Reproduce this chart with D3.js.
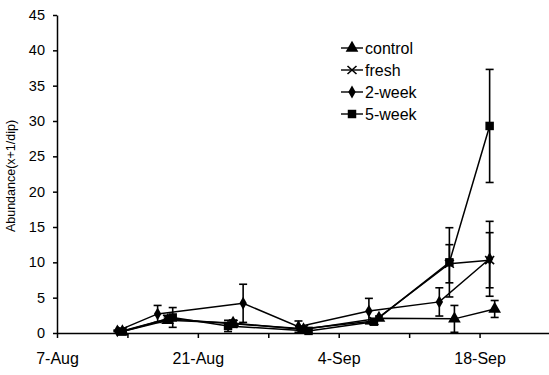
<!DOCTYPE html>
<meta charset="utf-8">
<style>
body { margin: 0; background: #fff; }
svg { font-family: "Liberation Sans", Arial, sans-serif; }
.axis path, .axis line { stroke: #000; stroke-width: 1.5px; }
.axis text { fill: #000; }
.series path.line { fill: none; stroke: #000; stroke-width: 1.5px; }
.err { stroke: #000; stroke-width: 1.6px; }
</style>
<svg width="549" height="375"></svg>
<script src="https://d3js.org/d3.v7.min.js"></script>
<script>

// sampling dates (read per treatment, they sit slightly apart on the chart)
var controlDates = ["2000-08-13T12:00", "2000-08-18T00:00", "2000-08-24T12:00", "2000-08-31T12:00", "2000-09-08T00:00", "2000-09-15T12:00", "2000-09-19T12:00"];
var freshDates   = ["2000-08-13T12:00", "2000-08-18T00:00", "2000-08-24T12:00", "2000-08-31T12:00", "2000-09-07T12:00", "2000-09-15T00:00", "2000-09-19T00:00"];
var week2Dates   = ["2000-08-13T00:00", "2000-08-17T00:00", "2000-08-25T12:00", "2000-08-31T00:00", "2000-09-07T00:00", "2000-09-14T00:00", "2000-09-19T00:00"];
var week5Dates   = ["2000-08-13T12:00", "2000-08-18T12:00", "2000-08-24T00:00", "2000-09-01T00:00", "2000-09-07T12:00", "2000-09-15T00:00", "2000-09-19T00:00"];

var controlMean = [0.2, 1.8, 1.4, 0.5, 2.1, 2.0, 3.4];
var controlErr  = [0.1, 0.3, 0.4, 0.2, 0.3, 1.9, 1.2];
var freshMean   = [0.3, 2.0, 1.3, 0.6, 1.7, 9.8, 10.3];
var freshErr    = [0.1, 0.5, 0.5, 0.3, 0.3, 2.7, 3.9];
var week2Mean   = [0.3, 2.7, 4.2, 0.9, 3.1, 4.4, 10.5];
var week2Err    = [0.1, 1.2, 2.7, 0.8, 1.8, 2.0, 5.3];
var week5Mean   = [0.2, 2.2, 1.0, 0.3, 1.6, 10.0, 29.3];
var week5Err    = [0.1, 1.4, 0.8, 0.3, 0.4, 4.9, 8.0];

var seriesNames = ["control", "fresh", "2-week", "5-week"];
var yTicks = [0, 5, 10, 15, 20, 25, 30, 35, 40, 45];
var xTickDates = ["2000-08-07", "2000-08-14", "2000-08-21", "2000-08-28", "2000-09-04", "2000-09-11", "2000-09-18", "2000-09-25"];
var xTickLabels = ["7-Aug", "", "21-Aug", "", "4-Sep", "", "18-Sep", ""];
var yTitle = "Abundance(x+1/dip)";

var svg = d3.select("svg");

var parse = d3.isoParse;

var x = d3.scaleTime()
    .domain([parse("2000-08-07"), parse("2000-09-25")])
    .range([57, 550]);

var y = d3.scaleLinear()
    .domain([0, 45])
    .range([333, 15]);

function zip(dates, mean, err) {
  return dates.map(function(d, i) { return {date: parse(d), value: mean[i], err: err[i]}; });
}

var series = [
  {name: seriesNames[0], symbol: d3.symbolTriangle, size: 70, values: zip(controlDates, controlMean, controlErr)},
  {name: seriesNames[1], symbol: d3.symbolCross,    size: 0,  values: zip(freshDates, freshMean, freshErr)},
  {name: seriesNames[2], symbol: d3.symbolDiamond,  size: 48, values: zip(week2Dates, week2Mean, week2Err)},
  {name: seriesNames[3], symbol: d3.symbolSquare,   size: 72, values: zip(week5Dates, week5Mean, week5Err)}
];

// x marker drawn as two strokes
function drawMarker(sel, s) {
  if (s.name === "fresh") {
    sel.append("path")
        .attr("d", "M-4.5,-4L4.5,4M-4.5,4L4.5,-4")
        .attr("stroke", "#000")
        .attr("stroke-width", 1.6)
        .attr("fill", "none");
  } else {
    sel.append("path")
        .attr("d", d3.symbol().type(s.symbol).size(s.size)())
        .attr("fill", "#000");
  }
}

// axes
var xAxis = svg.append("g")
    .attr("class", "axis")
    .attr("transform", "translate(0," + y(0) + ")")
    .call(d3.axisBottom(x)
      .tickValues(xTickDates.map(parse))
      .tickSize(5)
      .tickSizeOuter(0)
      .tickPadding(15)
      .tickFormat(function(d, i) { return xTickLabels[i]; }));
xAxis.selectAll("text").attr("font-size", 16);

var yAxis = svg.append("g")
    .attr("class", "axis")
    .attr("transform", "translate(" + x.range()[0] + ",0)")
    .call(d3.axisLeft(y)
      .tickValues(yTicks)
      .tickSize(4)
      .tickSizeOuter(0)
      .tickPadding(8));
yAxis.selectAll("text").attr("font-size", 14.5);
xAxis.attr("font-family", null);
yAxis.attr("font-family", null);

svg.append("text")
    .attr("transform", "translate(15," + 176 + ") rotate(-90)")
    .attr("text-anchor", "middle")
    .attr("font-size", 12.5)
    .text(yTitle);

var line = d3.line()
    .x(function(d) { return x(d.date); })
    .y(function(d) { return y(d.value); });

var g = svg.selectAll(".series")
  .data(series)
  .enter().append("g")
    .attr("class", "series");

g.append("path")
    .attr("class", "line")
    .attr("d", function(d) { return line(d.values); });

g.each(function(s) {
  var eg = d3.select(this).selectAll(".errbar")
    .data(s.values)
    .enter().append("g")
      .attr("class", "errbar")
      .attr("transform", function(d) { return "translate(" + x(d.date) + ",0)"; });
  eg.append("line").attr("class", "err")
      .attr("y1", function(d) { return y(d.value - d.err); })
      .attr("y2", function(d) { return y(d.value + d.err); });
  eg.append("line").attr("class", "err")
      .attr("x1", -4).attr("x2", 4)
      .attr("y1", function(d) { return y(d.value + d.err); })
      .attr("y2", function(d) { return y(d.value + d.err); });
  eg.append("line").attr("class", "err")
      .attr("x1", -4).attr("x2", 4)
      .attr("y1", function(d) { return y(d.value - d.err); })
      .attr("y2", function(d) { return y(d.value - d.err); });

  d3.select(this).selectAll(".pt")
    .data(s.values)
    .enter().append("g")
      .attr("class", "pt")
      .attr("transform", function(d) { return "translate(" + x(d.date) + "," + y(d.value) + ")"; })
      .each(function() { drawMarker(d3.select(this), s); });
});

// legend
var legend = svg.selectAll(".legend")
  .data(series)
  .enter().append("g")
    .attr("class", "legend")
    .attr("transform", function(d, i) { return "translate(341," + (48 + i * 22) + ")"; });

legend.append("line")
    .attr("x1", 0).attr("x2", 22)
    .attr("stroke", "#000")
    .attr("stroke-width", 1.4);

legend.append("g")
    .attr("transform", "translate(11,0)")
    .each(function(s) { drawMarker(d3.select(this), s); });

legend.append("text")
    .attr("x", 24)
    .attr("dy", "0.35em")
    .attr("font-size", 16)
    .text(function(d) { return d.name; });

</script>
